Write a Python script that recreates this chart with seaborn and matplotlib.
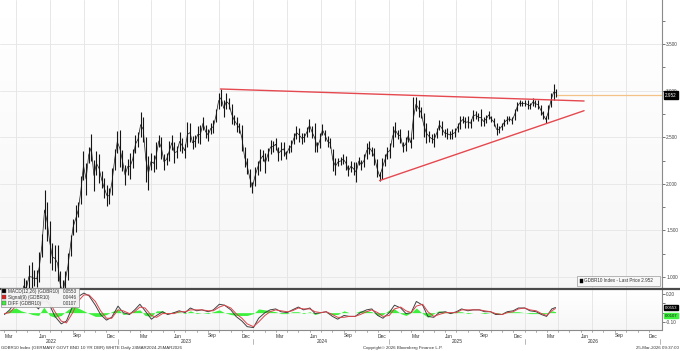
import numpy as np
import pandas as pd
import matplotlib.pyplot as plt
import matplotlib.dates as mdates
from matplotlib.patches import Rectangle
import seaborn as sns

# ---------------------------------------------------------------------------
# weekly high / low of GDBR10 (German 10y yield, %), weeks ending Friday
# ---------------------------------------------------------------------------
first_week = "2022-02-18"

low_2022 = [0.18, 0.12, -0.08, 0.03, 0.22, 0.35, 0.49, 0.51, 0.68, 0.82, 0.78, 0.88,
            0.84, 0.90, 0.89, 0.95, 1.22, 1.51, 1.39, 1.15, 1.07, 1.06, 0.96, 0.80,
            0.68, 0.88, 0.97, 1.23, 1.45, 1.48, 1.64, 1.78, 2.04, 1.88, 2.22, 2.25,
            1.92, 2.09, 2.01, 1.95, 1.85, 1.76, 1.78, 1.88, 2.15, 2.33]
high_2022 = [0.31, 0.26, 0.14, 0.28, 0.41, 0.60, 0.72, 0.73, 0.86, 0.99, 0.97, 1.13,
             1.16, 1.07, 1.07, 1.27, 1.46, 1.93, 1.80, 1.60, 1.36, 1.34, 1.34, 1.06,
             0.97, 1.06, 1.26, 1.45, 1.62, 1.77, 1.80, 2.08, 2.35, 2.22, 2.40, 2.53,
             2.26, 2.35, 2.32, 2.14, 2.06, 1.99, 1.96, 2.17, 2.37, 2.57]

low_2023 = [2.18, 2.14, 1.99, 2.10, 2.05, 2.17, 2.33, 2.40, 2.50, 2.45, 2.02, 1.93,
            2.15, 2.13, 2.16, 2.40, 2.27, 2.15, 2.20, 2.24, 2.36, 2.22, 2.28, 2.35,
            2.33, 2.28, 2.40, 2.45, 2.37, 2.40, 2.44, 2.43, 2.58, 2.49, 2.46, 2.54,
            2.55, 2.66, 2.80, 2.83, 2.72, 2.80, 2.80, 2.64, 2.63, 2.56, 2.55, 2.35,
            2.18, 2.11, 1.97, 1.90]
high_2023 = [2.58, 2.36, 2.20, 2.27, 2.33, 2.37, 2.52, 2.56, 2.77, 2.72, 2.50, 2.30,
             2.33, 2.31, 2.45, 2.52, 2.50, 2.32, 2.33, 2.46, 2.52, 2.45, 2.41, 2.56,
             2.49, 2.43, 2.66, 2.65, 2.51, 2.52, 2.62, 2.63, 2.72, 2.63, 2.59, 2.65,
             2.68, 2.80, 2.98, 3.02, 2.90, 2.97, 2.92, 2.86, 2.74, 2.72, 2.65, 2.63,
             2.40, 2.28, 2.16, 2.02]

low_2024 = [1.98, 2.10, 2.14, 2.24, 2.12, 2.25, 2.32, 2.34, 2.36, 2.25, 2.26, 2.30,
            2.27, 2.33, 2.34, 2.43, 2.48, 2.45, 2.43, 2.45, 2.50, 2.56, 2.49, 2.34,
            2.34, 2.38, 2.52, 2.46, 2.40, 2.38, 2.14, 2.10, 2.19, 2.20, 2.21, 2.15,
            2.08, 2.13, 2.09, 2.02, 2.20, 2.15, 2.18, 2.27, 2.32, 2.30, 2.20, 2.07,
            2.03, 2.05, 2.19, 2.27]
high_2024 = [2.18, 2.24, 2.37, 2.36, 2.33, 2.38, 2.47, 2.46, 2.49, 2.40, 2.45, 2.45,
             2.35, 2.42, 2.47, 2.55, 2.62, 2.60, 2.55, 2.55, 2.61, 2.70, 2.62, 2.65,
             2.45, 2.55, 2.64, 2.58, 2.51, 2.49, 2.37, 2.28, 2.28, 2.29, 2.32, 2.30,
             2.20, 2.25, 2.23, 2.23, 2.29, 2.26, 2.32, 2.44, 2.46, 2.40, 2.38, 2.27,
             2.13, 2.28, 2.32, 2.40]

low_2025 = [2.28, 2.40, 2.50, 2.48, 2.44, 2.34, 2.35, 2.45, 2.38, 2.48, 2.78, 2.72,
            2.71, 2.50, 2.44, 2.45, 2.44, 2.40, 2.49, 2.58, 2.52, 2.50, 2.48, 2.48,
            2.48, 2.50, 2.56, 2.59, 2.65, 2.60, 2.60, 2.60, 2.67, 2.70, 2.67, 2.62,
            2.62, 2.65, 2.70, 2.66, 2.62, 2.52, 2.55, 2.58, 2.62, 2.64, 2.67, 2.64,
            2.69, 2.78, 2.84, 2.83]
high_2025 = [2.44, 2.62, 2.66, 2.58, 2.59, 2.45, 2.50, 2.58, 2.50, 2.93, 2.93, 2.90,
             2.82, 2.76, 2.65, 2.57, 2.53, 2.55, 2.60, 2.69, 2.67, 2.59, 2.60, 2.57,
             2.59, 2.60, 2.65, 2.73, 2.73, 2.72, 2.73, 2.70, 2.79, 2.78, 2.76, 2.80,
             2.72, 2.74, 2.78, 2.73, 2.71, 2.65, 2.62, 2.65, 2.70, 2.73, 2.73, 2.72,
             2.80, 2.88, 2.90, 2.89]

low_2026 = [2.83, 2.80, 2.80, 2.84, 2.82, 2.80, 2.74, 2.70, 2.65, 2.70, 2.82, 2.90, 2.93]
high_2026 = [2.90, 2.90, 2.87, 2.92, 2.90, 2.90, 2.85, 2.78, 2.73, 2.85, 2.98, 3.07, 3.02]

last_price = 2.952
last_date = "2026-03-25"

# hand-drawn trend lines (start, end)
upper_dates = ["2023-10-04", "2026-06-10"]
upper_vals = [3.018, 2.889]
lower_dates = ["2024-12-06", "2026-06-10"]
lower_vals = [2.035, 2.785]

# ---------------------------------------------------------------------------
# MACD(12,26) / signal(9), sampled on the 1st and 15th of each month
# ---------------------------------------------------------------------------
macd_2022 = [-0.02, 0.03, 0.12, 0.15, 0.14, 0.10, 0.04, 0.18, 0.08, -0.04,
             -0.12, -0.09, 0.07, 0.17, 0.21, 0.18, 0.08, -0.02, -0.08, -0.05]
macd_2023 = [0.07, 0.00, -0.02, 0.03, 0.09, 0.02, -0.07, -0.03, 0.01, -0.02,
             0.00, 0.02, 0.00, 0.05, 0.02, 0.03, 0.01, 0.03, 0.09, 0.08,
             0.03, -0.04, -0.09, -0.15]
macd_2024 = [-0.16, -0.06, 0.00, 0.03, 0.04, 0.01, 0.00, 0.03, 0.06, 0.03,
             0.05, -0.01, 0.00, 0.01, -0.04, -0.07, -0.03, -0.04, -0.04, 0.00,
             0.03, 0.04, -0.03, -0.06]
macd_2025 = [0.00, 0.08, 0.05, -0.01, 0.00, 0.12, 0.08, -0.04, -0.05, 0.00,
             0.01, -0.01, 0.01, 0.04, 0.02, 0.03, 0.03, 0.01, 0.01, -0.02,
             -0.02, 0.01, 0.02, 0.05]
macd_2026 = [0.05, 0.02, 0.01, -0.02, -0.04, 0.04, 0.0553]

signal_2022 = [-0.01, 0.00, 0.07, 0.13, 0.14, 0.12, 0.07, 0.12, 0.11, 0.01,
               -0.09, -0.11, 0.00, 0.12, 0.19, 0.19, 0.12, 0.02, -0.06, -0.06]
signal_2023 = [0.03, 0.02, -0.01, 0.01, 0.06, 0.05, -0.03, -0.05, -0.01, -0.01,
               -0.01, 0.01, 0.01, 0.03, 0.03, 0.03, 0.02, 0.02, 0.06, 0.08,
               0.05, -0.01, -0.06, -0.12]
signal_2024 = [-0.15, -0.10, -0.03, 0.01, 0.03, 0.02, 0.01, 0.02, 0.05, 0.04,
               0.04, 0.01, 0.00, 0.01, -0.02, -0.05, -0.05, -0.04, -0.04, -0.02,
               0.01, 0.03, 0.00, -0.04]
signal_2025 = [-0.03, 0.04, 0.06, 0.02, 0.00, 0.07, 0.09, 0.01, -0.04, -0.02,
               0.00, 0.00, 0.00, 0.03, 0.03, 0.03, 0.03, 0.02, 0.01, -0.01,
               -0.02, 0.00, 0.01, 0.04]
signal_2026 = [0.05, 0.03, 0.02, -0.01, -0.03, 0.02, 0.0446]

macd_last, signal_last, diff_last = 0.0553, 0.0446, 0.0107

month_labels = ["Mar", "Jun", "Sep", "Dec"]
label_years = [2022, 2023, 2024, 2025, 2026]

# ---------------------------------------------------------------------------
lows = np.array(low_2022 + low_2023 + low_2024 + low_2025 + low_2026)
highs = np.array(high_2022 + high_2023 + high_2024 + high_2025 + high_2026)
weeks = pd.date_range(first_week, periods=len(lows), freq="W-FRI")
price = pd.DataFrame({"date": weeks, "low": lows, "high": highs})
price["mid"] = (price["low"] + price["high"]) / 2

macd_dates = pd.date_range("2022-03-01", "2026-03-15", freq="SMS").append(pd.DatetimeIndex([last_date]))
macd = pd.DataFrame({
    "date": macd_dates,
    "macd": macd_2022 + macd_2023 + macd_2024 + macd_2025 + macd_2026,
    "signal": signal_2022 + signal_2023 + signal_2024 + signal_2025 + signal_2026,
})
macd["diff"] = macd["macd"] - macd["signal"]

sns.set_theme(style="white")
plt.rcParams["font.family"] = ["Liberation Sans", "DejaVu Sans"]

W, H = 680, 351
fig = plt.figure(figsize=(6.8, 3.51), dpi=100)
fig.patch.set_facecolor("white")

ax = fig.add_axes([0, 1 - 288 / H, 662 / W, 288 / H])
ax2 = fig.add_axes([0, 1 - 330 / H, 662 / W, 40 / H], sharex=ax)

x0 = mdates.date2num(pd.Timestamp("2022-02-17"))
x1 = mdates.date2num(pd.Timestamp("2027-01-06"))

# soft white -> light grey gradient backgrounds like the terminal
grad = np.linspace(0, 1, 64).reshape(-1, 1)
for a in (ax, ax2):
    a.imshow(grad, cmap="Greys", vmin=0, vmax=14, aspect="auto",
             extent=(0, 1, 0, 1), transform=a.transAxes, zorder=0)
    a.set_facecolor("white")
    for s in ("left", "top", "bottom"):
        a.spines[s].set_visible(False)
    a.spines["right"].set_color("#8a8a8a")
    a.spines["right"].set_linewidth(0.8)
    a.yaxis.tick_right()
    a.tick_params(axis="y", which="both", direction="out", length=1.8, width=0.5,
                  pad=1.2, labelsize=3.4, colors="#444444")
    a.tick_params(axis="x", which="both", length=0, labelbottom=False)

# quarter grid lines
for yr in range(2022, 2027):
    for m in (1, 4, 7, 10):
        d = pd.Timestamp(year=yr, month=m, day=1)
        if x0 < mdates.date2num(d) < x1:
            ax.axvline(d, color="#e3e3e3", lw=0.6, zorder=1)
            ax2.axvline(d, color="#e3e3e3", lw=0.6, zorder=1)

ax.set_ylim(0.882, 3.973)
ax.set_yticks([1.0, 1.5, 2.0, 2.5, 3.0, 3.5])
ax.set_yticks(np.arange(1.25, 3.9, 0.5), minor=True)
ax.yaxis.set_major_formatter(plt.FormatStrFormatter("%.3f"))
for v in [1.0, 1.5, 2.0, 2.5, 3.0, 3.5]:
    ax.axhline(v, color="#e6e6e6", lw=0.6, zorder=1)

# price bars
ax.vlines(price["date"], price["low"], price["high"], color="#151515", lw=0.8, zorder=3)
sns.lineplot(data=price, x="date", y="mid", ax=ax, color="#151515", lw=0.5, zorder=3)

# trend lines
ax.plot(pd.to_datetime(upper_dates), upper_vals, color="#e5484f", lw=1.0, zorder=4)
ax.plot(pd.to_datetime(lower_dates), lower_vals, color="#e5484f", lw=1.0, zorder=4)

# last price line
ax.hlines(last_price, mdates.date2num(pd.Timestamp(last_date)), x1,
          color="#f2c288", lw=0.9, zorder=2)
ax.text(1.004, last_price, f"{last_price:.3f}", transform=ax.get_yaxis_transform(),
        fontsize=3.3, color="white", va="center", ha="left", clip_on=False, zorder=10,
        bbox=dict(boxstyle="square,pad=0.25", fc="black", ec="black"))

ax.set_xlim(x0, x1)
ax.set_xlabel("")
ax.set_ylabel("")

# main legend box (bottom right)
fig.patches.append(Rectangle((577 / W, 1 - 286 / H), 83 / W, 10 / H, transform=fig.transFigure,
                             fc="#f7f7f7", ec="#9a9a9a", lw=0.5, zorder=5))
fig.patches.append(Rectangle((579.5 / W, 1 - 283.3 / H), 3.5 / W, 4 / H, transform=fig.transFigure,
                             fc="black", ec="black", lw=0.3, zorder=6))
fig.text(584 / W, 1 - 281 / H, f"GDBR10 Index - Last Price {last_price:.3f}", fontsize=3.3,
         color="#333333", va="center", ha="left", zorder=7)

# MACD panel
ax2.fill_between(macd["date"], 0, macd["diff"], color="#3cf03c", lw=0, zorder=2)
sns.lineplot(data=macd, x="date", y="macd", ax=ax2, color="#404040", lw=0.7, zorder=3)
sns.lineplot(data=macd, x="date", y="signal", ax=ax2, color="#d9434a", lw=0.7, zorder=4)
ax2.set_ylim(-0.186, 0.243)
ax2.set_yticks([-0.10, 0.20])
ax2.set_yticks([0.0, 0.10], minor=True)
ax2.yaxis.set_major_formatter(plt.FormatStrFormatter("%.2f"))
ax2.set_xlabel("")
ax2.set_ylabel("")
ax2.set_xlim(x0, x1)

ax2.text(1.004, macd_last, f"{macd_last:.4f}", transform=ax2.get_yaxis_transform(),
         fontsize=3.1, color="white", va="center", ha="left", clip_on=False, zorder=10,
         bbox=dict(boxstyle="square,pad=0.1", fc="black", ec="black"))
ax2.text(1.004, diff_last - 0.045, f"{diff_last:.4f}", transform=ax2.get_yaxis_transform(),
         fontsize=3.1, color="#1a1a1a", va="center", ha="left", clip_on=False, zorder=9,
         bbox=dict(boxstyle="square,pad=0.1", fc="#3cf03c", ec="#3cf03c"))

# MACD legend (top left)
fig.patches.append(Rectangle((0.5 / W, 1 - 307 / H), 78.5 / W, 19 / H, transform=fig.transFigure,
                             fc="#f4f4f4", ec="#8a8a8a", lw=0.5, zorder=5, alpha=0.95))
leg_rows = [("MACD(12,26) (GDBR10)", macd_last, "black"),
            ("Signal(9) (GDBR10)", signal_last, "#e02020"),
            ("DIFF (GDBR10)", diff_last, "#3cf03c")]
for i, (name, val, col) in enumerate(leg_rows):
    yy = 1 - (291.3 + 6 * i) / H
    fig.patches.append(Rectangle((2 / W, yy - 2 / H), 4 / W, 4 / H, transform=fig.transFigure,
                                 fc=col, ec="#555555", lw=0.3, zorder=6))
    fig.text(8 / W, yy, name, fontsize=3.3, color="#333333", va="center", ha="left", zorder=7)
    fig.text(77 / W, yy, f"{val:.4f}", fontsize=3.3, color="#333333", va="center", ha="right", zorder=7)

# heavy separator between panels
fig.add_artist(plt.Line2D([0, 1], [1 - 289 / H] * 2, transform=fig.transFigure,
                          color="#4a4a4a", lw=1.6))

# month ticks + labels along the bottom axis
ax2.axhline(ax2.get_ylim()[0], color="#8a8a8a", lw=0.8, zorder=5, clip_on=False)
tr = ax2.get_xaxis_transform()
for yr in range(2022, 2027):
    for m in range(1, 13):
        d = pd.Timestamp(year=yr, month=m, day=1)
        if x0 < mdates.date2num(d) < x1:
            ax2.plot([d, d], [0, -0.06], transform=tr, color="#8a8a8a", lw=0.5, clip_on=False)
for yr in label_years:
    for mi, name in zip((3, 6, 9, 12), month_labels):
        d = pd.Timestamp(year=yr, month=mi, day=1)
        ax2.text(d, -0.15, name, transform=tr, fontsize=3.5, color="#333333",
                 ha="left", va="center")
    ax2.text(pd.Timestamp(year=yr, month=7, day=4), -0.285, str(yr), transform=tr,
             fontsize=3.5, color="#333333", ha="center", va="center")
    ax2.plot([pd.Timestamp(year=yr + 1, month=1, day=1)] * 2, [-0.22, -0.36], transform=tr,
             color="#9a9a9a", lw=0.5, clip_on=False)

# footer
fig.text(1 / W, 1 - 348 / H, "GDBR10 Index (GERMANY GOVT BND 10 YR DBR) WHITE Daily 24MAR2024-25MAR2026",
         fontsize=3.2, color="#333333", ha="left", va="center")
fig.text(363 / W, 1 - 348 / H, "Copyright\u00a9 2026 Bloomberg Finance L.P.",
         fontsize=3.2, color="#333333", ha="left", va="center")
fig.text(679 / W, 1 - 348 / H, "25-Mar-2026 09:37:00",
         fontsize=3.2, color="#333333", ha="right", va="center")

fig.savefig("out.png", dpi=100)
